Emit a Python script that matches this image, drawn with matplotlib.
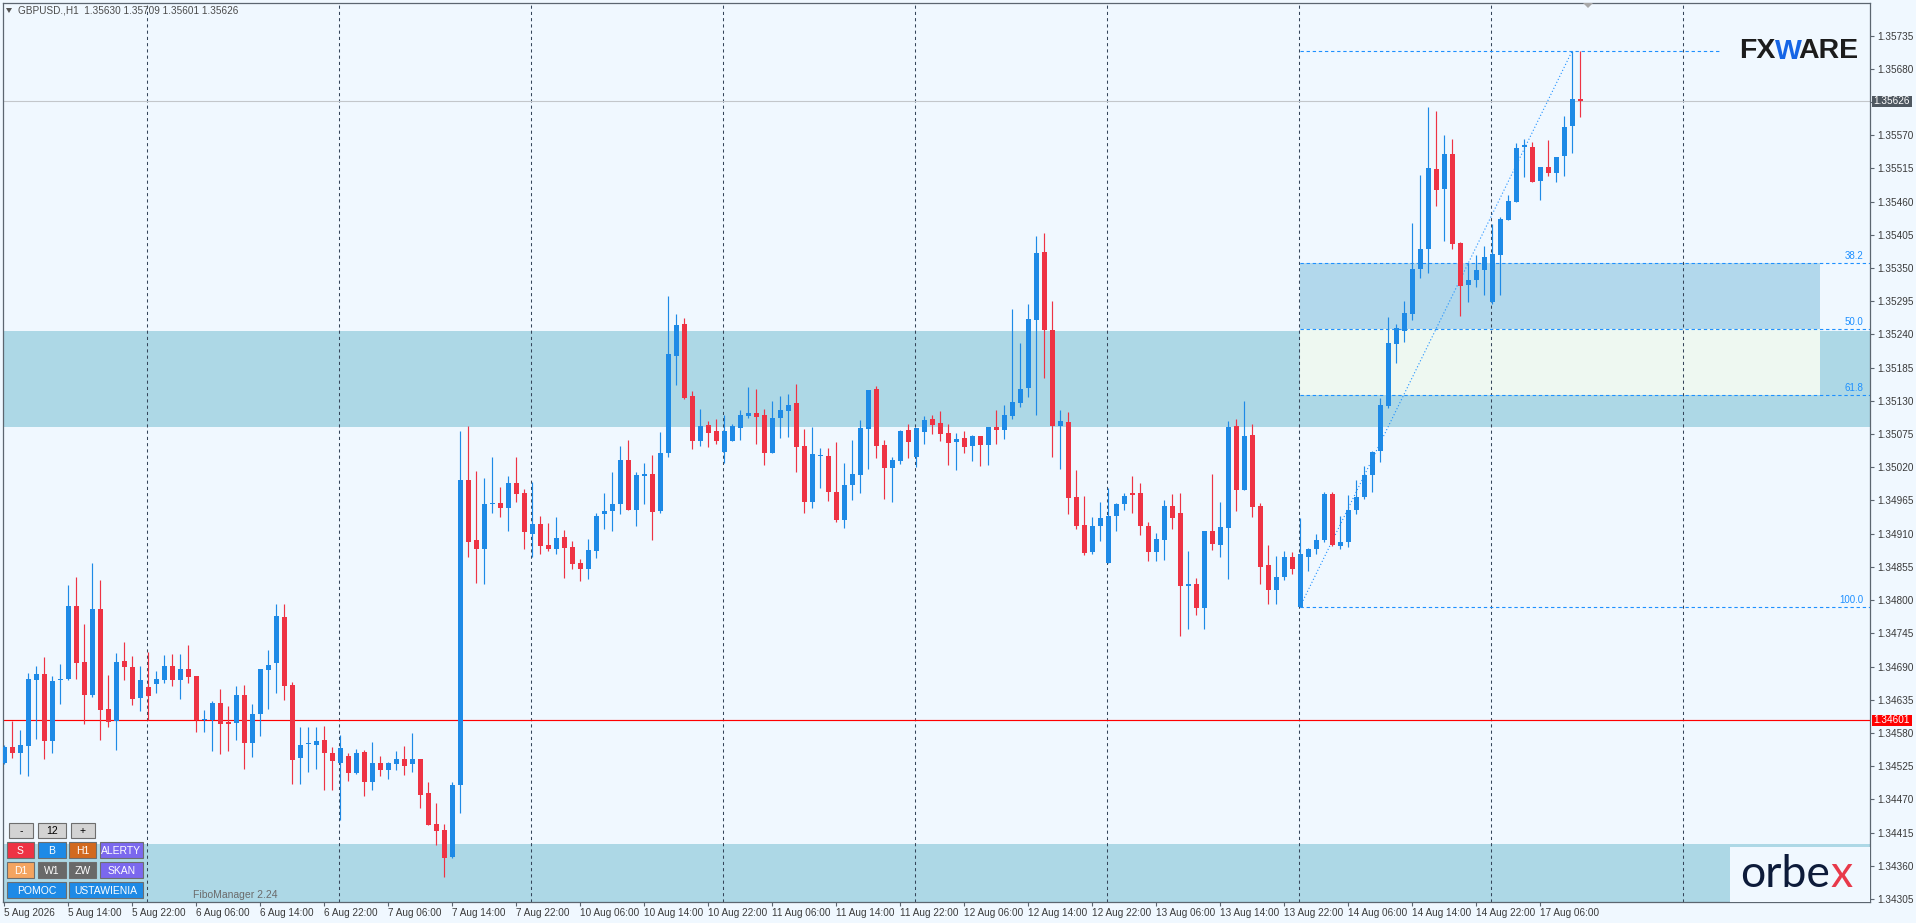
import matplotlib
matplotlib.use("Agg")
import matplotlib.pyplot as plt
from matplotlib.patches import Rectangle, Polygon

FIG_W, FIG_H = 1916, 923
DPI = 100

BG = "#f0f8ff"
BULL = "#1e8ae6"
BEAR = "#ee3344"
ZONE = "#add8e6"
FIB_BLUE = "#1e90ff"
AXIS_GRAY = "#5c6670"
TEXT_GRAY = "#3a3a3a"

# ---- GBPUSD H1 candles (5 Aug 06:00 .. 17 Aug 11:00) ----
opens = [
    1.34530, 1.34557, 1.34547, 1.34559, 1.34668, 1.34678, 1.34566, 1.34667, 1.34669, 1.34790,
    1.34698, 1.34643, 1.34785, 1.34620, 1.34599, 1.34699, 1.34689, 1.34638, 1.34656, 1.34661,
    1.34668, 1.34691, 1.34667, 1.34686, 1.34674, 1.34601, 1.34601, 1.34630, 1.34598, 1.34597,
    1.34643, 1.34563, 1.34611, 1.34684, 1.34696, 1.34772, 1.34659, 1.34539, 1.34561, 1.34560,
    1.34568, 1.34547, 1.34531, 1.34542, 1.34513, 1.34548, 1.34498, 1.34530, 1.34518, 1.34529,
    1.34537, 1.34528, 1.34537, 1.34481, 1.34429, 1.34419, 1.34375, 1.34494, 1.34999, 1.34900,
    1.34885, 1.34959, 1.34961, 1.34953, 1.34994, 1.34978, 1.34910, 1.34926, 1.34891, 1.34884,
    1.34905, 1.34888, 1.34861, 1.34851, 1.34882, 1.34942, 1.34948, 1.34960, 1.35032, 1.34950,
    1.35006, 1.35009, 1.34948, 1.35044, 1.35204, 1.35257, 1.35138, 1.35064, 1.35090, 1.35080,
    1.35045, 1.35064, 1.35085, 1.35105, 1.35110, 1.35107, 1.35044, 1.35102, 1.35113, 1.35127,
    1.35055, 1.34963, 1.35039, 1.35039, 1.34979, 1.34933, 1.34991, 1.35007, 1.35083, 1.35150,
    1.35057, 1.35019, 1.35031, 1.35082, 1.35037, 1.35079, 1.35100, 1.35093, 1.35077, 1.35062,
    1.35069, 1.35055, 1.35072, 1.35057, 1.35087, 1.35082, 1.35105, 1.35127, 1.35151, 1.35264,
    1.35377, 1.35247, 1.35088, 1.35095, 1.34971, 1.34925, 1.34880, 1.34923, 1.34862, 1.34939,
    1.34959, 1.34978, 1.34978, 1.34923, 1.34880, 1.34900, 1.34956, 1.34944, 1.34823, 1.34827,
    1.34787, 1.34915, 1.34891, 1.34920, 1.35088, 1.34982, 1.35074, 1.34956, 1.34858, 1.34817,
    1.34838, 1.34871, 1.34789, 1.34871, 1.34885, 1.34900, 1.34976, 1.34890, 1.34896, 1.34949,
    1.34971, 1.35007, 1.35047, 1.35122, 1.35224, 1.35246, 1.35274, 1.35349, 1.35381, 1.35514,
    1.35481, 1.35539, 1.35392, 1.35322, 1.35330, 1.35346, 1.35294, 1.35372, 1.35429, 1.35460,
    1.35551, 1.35550, 1.35495, 1.35517, 1.35508, 1.35536, 1.35586, 1.35630,
]
highs = [
    1.34560, 1.34599, 1.34585, 1.34679, 1.34691, 1.34705, 1.34674, 1.34695, 1.34825, 1.34838,
    1.34761, 1.34862, 1.34833, 1.34676, 1.34712, 1.34731, 1.34708, 1.34691, 1.34714, 1.34683,
    1.34709, 1.34711, 1.34711, 1.34726, 1.34674, 1.34618, 1.34633, 1.34653, 1.34625, 1.34658,
    1.34659, 1.34628, 1.34686, 1.34717, 1.34794, 1.34794, 1.34664, 1.34590, 1.34590, 1.34590,
    1.34592, 1.34557, 1.34577, 1.34547, 1.34553, 1.34552, 1.34565, 1.34542, 1.34532, 1.34550,
    1.34558, 1.34580, 1.34537, 1.34499, 1.34464, 1.34430, 1.34498, 1.35080, 1.35088, 1.35014,
    1.35002, 1.35037, 1.34987, 1.35006, 1.35037, 1.34984, 1.34996, 1.34939, 1.34928, 1.34938,
    1.34916, 1.34898, 1.34868, 1.34901, 1.34944, 1.34978, 1.35012, 1.35055, 1.35065, 1.35012,
    1.35027, 1.35040, 1.35079, 1.35304, 1.35274, 1.35267, 1.35147, 1.35117, 1.35097, 1.35100,
    1.35107, 1.35092, 1.35115, 1.35153, 1.35150, 1.35117, 1.35130, 1.35138, 1.35141, 1.35158,
    1.35083, 1.35087, 1.35052, 1.35052, 1.35062, 1.35027, 1.35065, 1.35098, 1.35148, 1.35155,
    1.35065, 1.35037, 1.35082, 1.35092, 1.35085, 1.35105, 1.35107, 1.35113, 1.35092, 1.35077,
    1.35080, 1.35074, 1.35072, 1.35087, 1.35115, 1.35123, 1.35282, 1.35226, 1.35291, 1.35403,
    1.35408, 1.35296, 1.35115, 1.35112, 1.35016, 1.34973, 1.34938, 1.34963, 1.34986, 1.34961,
    1.34978, 1.35006, 1.34994, 1.34929, 1.34911, 1.34966, 1.34976, 1.34978, 1.34881, 1.34837,
    1.34915, 1.35009, 1.34963, 1.35097, 1.35100, 1.35130, 1.35092, 1.34961, 1.34891, 1.34873,
    1.34881, 1.34880, 1.34936, 1.34886, 1.34910, 1.34979, 1.34979, 1.34939, 1.34974, 1.34999,
    1.35022, 1.35047, 1.35135, 1.35269, 1.35257, 1.35296, 1.35425, 1.35504, 1.35617, 1.35610,
    1.35570, 1.35564, 1.35393, 1.35358, 1.35372, 1.35386, 1.35423, 1.35435, 1.35471, 1.35557,
    1.35564, 1.35559, 1.35517, 1.35562, 1.35534, 1.35602, 1.35709, 1.35709,
]
lows = [
    1.34529, 1.34538, 1.34512, 1.34509, 1.34570, 1.34537, 1.34547, 1.34628, 1.34668, 1.34670,
    1.34595, 1.34639, 1.34568, 1.34590, 1.34551, 1.34667, 1.34627, 1.34616, 1.34601, 1.34646,
    1.34662, 1.34657, 1.34636, 1.34662, 1.34581, 1.34581, 1.34550, 1.34545, 1.34550, 1.34569,
    1.34520, 1.34540, 1.34575, 1.34620, 1.34646, 1.34635, 1.34496, 1.34496, 1.34515, 1.34520,
    1.34486, 1.34485, 1.34435, 1.34501, 1.34512, 1.34475, 1.34485, 1.34508, 1.34503, 1.34519,
    1.34511, 1.34516, 1.34455, 1.34428, 1.34395, 1.34342, 1.34373, 1.34448, 1.34872, 1.34829,
    1.34827, 1.34945, 1.34938, 1.34915, 1.34963, 1.34885, 1.34872, 1.34877, 1.34882, 1.34877,
    1.34837, 1.34852, 1.34832, 1.34835, 1.34870, 1.34918, 1.34915, 1.34943, 1.34950, 1.34923,
    1.34959, 1.34900, 1.34944, 1.35037, 1.35156, 1.35133, 1.35050, 1.35055, 1.35054, 1.35059,
    1.35027, 1.35064, 1.35065, 1.35102, 1.35059, 1.35024, 1.35044, 1.35069, 1.35070, 1.35012,
    1.34944, 1.34953, 1.34986, 1.34964, 1.34929, 1.34920, 1.34966, 1.34978, 1.35017, 1.35035,
    1.34968, 1.34963, 1.35026, 1.35035, 1.35021, 1.35059, 1.35075, 1.35064, 1.35024, 1.35016,
    1.35044, 1.35031, 1.35022, 1.35024, 1.35059, 1.35067, 1.35100, 1.35120, 1.35137, 1.35107,
    1.35168, 1.35037, 1.35017, 1.34943, 1.34918, 1.34875, 1.34876, 1.34898, 1.34862, 1.34915,
    1.34949, 1.34944, 1.34908, 1.34865, 1.34865, 1.34867, 1.34918, 1.34741, 1.34752, 1.34775,
    1.34752, 1.34883, 1.34871, 1.34835, 1.34948, 1.34982, 1.34938, 1.34827, 1.34794, 1.34794,
    1.34833, 1.34843, 1.34789, 1.34848, 1.34876, 1.34896, 1.34890, 1.34885, 1.34888, 1.34943,
    1.34968, 1.34979, 1.35029, 1.35118, 1.35193, 1.35228, 1.35264, 1.35334, 1.35341, 1.35453,
    1.35395, 1.35382, 1.35270, 1.35294, 1.35319, 1.35305, 1.35290, 1.35306, 1.35429, 1.35460,
    1.35500, 1.35493, 1.35463, 1.35503, 1.35493, 1.35503, 1.35541, 1.35601,
]
closes = [
    1.34557, 1.34547, 1.34560, 1.34669, 1.34678, 1.34566, 1.34666, 1.34669, 1.34790, 1.34696,
    1.34643, 1.34785, 1.34618, 1.34598, 1.34698, 1.34690, 1.34636, 1.34668, 1.34641, 1.34669,
    1.34691, 1.34667, 1.34686, 1.34672, 1.34601, 1.34603, 1.34630, 1.34595, 1.34595, 1.34643,
    1.34563, 1.34611, 1.34686, 1.34693, 1.34774, 1.34658, 1.34535, 1.34560, 1.34562, 1.34567,
    1.34547, 1.34534, 1.34555, 1.34514, 1.34547, 1.34498, 1.34530, 1.34518, 1.34530, 1.34537,
    1.34526, 1.34537, 1.34478, 1.34428, 1.34418, 1.34373, 1.34494, 1.34999, 1.34897, 1.34885,
    1.34959, 1.34961, 1.34952, 1.34994, 1.34975, 1.34913, 1.34926, 1.34889, 1.34884, 1.34903,
    1.34887, 1.34860, 1.34851, 1.34883, 1.34939, 1.34948, 1.34959, 1.35032, 1.34950, 1.35007,
    1.35009, 1.34946, 1.35044, 1.35208, 1.35256, 1.35135, 1.35064, 1.35088, 1.35077, 1.35064,
    1.35080, 1.35088, 1.35107, 1.35110, 1.35103, 1.35044, 1.35102, 1.35115, 1.35123, 1.35054,
    1.34963, 1.35042, 1.35040, 1.34979, 1.34933, 1.34991, 1.35009, 1.35085, 1.35148, 1.35055,
    1.35019, 1.35032, 1.35080, 1.35062, 1.35085, 1.35098, 1.35090, 1.35075, 1.35060, 1.35067,
    1.35054, 1.35072, 1.35057, 1.35087, 1.35082, 1.35107, 1.35128, 1.35150, 1.35266, 1.35375,
    1.35247, 1.35088, 1.35097, 1.34969, 1.34923, 1.34878, 1.34923, 1.34936, 1.34939, 1.34959,
    1.34973, 1.34974, 1.34923, 1.34880, 1.34901, 1.34956, 1.34936, 1.34823, 1.34827, 1.34787,
    1.34915, 1.34893, 1.34921, 1.35087, 1.34982, 1.35072, 1.34954, 1.34855, 1.34817, 1.34838,
    1.34871, 1.34852, 1.34876, 1.34885, 1.34900, 1.34976, 1.34891, 1.34896, 1.34949, 1.34971,
    1.35007, 1.35045, 1.35123, 1.35226, 1.35251, 1.35276, 1.35349, 1.35382, 1.35515, 1.35479,
    1.35539, 1.35390, 1.35321, 1.35330, 1.35347, 1.35369, 1.35374, 1.35431, 1.35461, 1.35549,
    1.35553, 1.35493, 1.35517, 1.35508, 1.35534, 1.35584, 1.35630, 1.35626,
]

# one label every 8 bars, starting at bar 0
time_labels = [
    "5 Aug 2026", "5 Aug 14:00", "5 Aug 22:00", "6 Aug 06:00", "6 Aug 14:00",
    "6 Aug 22:00", "7 Aug 06:00", "7 Aug 14:00", "7 Aug 22:00", "10 Aug 06:00",
    "10 Aug 14:00", "10 Aug 22:00", "11 Aug 06:00", "11 Aug 14:00", "11 Aug 22:00",
    "12 Aug 06:00", "12 Aug 14:00", "12 Aug 22:00", "13 Aug 06:00", "13 Aug 14:00",
    "13 Aug 22:00", "14 Aug 06:00", "14 Aug 14:00", "14 Aug 22:00", "17 Aug 06:00",
]
day_start_bars = [18, 42, 66, 90, 114, 138, 162, 186, 210]

price_ticks = [
    1.35735, 1.35680, 1.35625, 1.35570, 1.35515, 1.35460, 1.35405, 1.35350, 1.35295,
    1.35240, 1.35185, 1.35130, 1.35075, 1.35020, 1.34965, 1.34910, 1.34855, 1.34800,
    1.34745, 1.34690, 1.34635, 1.34580, 1.34525, 1.34470, 1.34415, 1.34360, 1.34305,
]

resistance_zone = (1.35087, 1.35246)
support_zone_top = 1.34396
fib_high, fib_low = 1.35709, 1.34789
fib_start_bar, fib_end_bar = 162, 196
fib_levels = [0.0, 38.2, 50.0, 61.8, 100.0]
alert_price = 1.34601
bid_price = 1.35626
header_text = "GBPUSD.,H1  1.35630 1.35709 1.35601 1.35626"

# ---- layout (pixels) ----
PLOT_L, PLOT_R, PLOT_T, PLOT_B = 3, 1870, 3, 902
BAR_PX, BAR0_PX = 8, 4
Y_TOP, Y_BOTTOM = 1.35789, 1.34300
X_MIN = (PLOT_L - BAR0_PX) / BAR_PX
X_MAX = (PLOT_R - BAR0_PX) / BAR_PX
FIB_BOX_END = 227
FIB_ZERO_END = 214.5

plt.rcParams["font.family"] = ["Liberation Sans", "DejaVu Sans"]


def price_px(p):
    return PLOT_T + (Y_TOP - p) / (Y_TOP - Y_BOTTOM) * (PLOT_B - PLOT_T)


fig = plt.figure(figsize=(FIG_W / DPI, FIG_H / DPI), dpi=DPI, facecolor=BG)
ax = fig.add_axes([PLOT_L / FIG_W, (FIG_H - PLOT_B) / FIG_H,
                   (PLOT_R - PLOT_L) / FIG_W, (PLOT_B - PLOT_T) / FIG_H])
ax.set_facecolor(BG)
ax.set_xlim(X_MIN, X_MAX)
ax.set_ylim(Y_BOTTOM, Y_TOP)

# zones
ax.add_patch(Rectangle((X_MIN, resistance_zone[0]), X_MAX - X_MIN,
                       resistance_zone[1] - resistance_zone[0],
                       facecolor=ZONE, edgecolor="none", zorder=0.5))
ax.add_patch(Rectangle((X_MIN, Y_BOTTOM - 0.001), X_MAX - X_MIN,
                       support_zone_top - Y_BOTTOM + 0.001,
                       facecolor=ZONE, edgecolor="none", zorder=0.5))

# fibonacci
fib_range = fib_high - fib_low
fib_prices = {lvl: fib_high - fib_range * lvl / 100 for lvl in fib_levels}
ax.add_patch(Rectangle((fib_start_bar, fib_prices[50.0]), FIB_BOX_END - fib_start_bar,
                       fib_prices[38.2] - fib_prices[50.0],
                       facecolor="#b2d8ec", edgecolor="none", zorder=0.6))
ax.add_patch(Rectangle((fib_start_bar, fib_prices[61.8]), FIB_BOX_END - fib_start_bar,
                       fib_prices[50.0] - fib_prices[61.8],
                       facecolor="#eef8f1", edgecolor="none", zorder=0.6))
for lvl, p in fib_prices.items():
    x_end = FIB_ZERO_END if lvl == 0.0 else X_MAX
    ax.plot([fib_start_bar, x_end], [p, p], color=FIB_BLUE, lw=0.8,
            ls=(0, (3, 2.5)), zorder=1.5)
    if lvl > 0:
        ax.annotate(f"{lvl:.1f}", xy=(1, p), xycoords=("axes fraction", "data"),
                    xytext=(-7, 2), textcoords="offset pixels", ha="right", va="bottom",
                    fontsize=7, color=FIB_BLUE, annotation_clip=False)
ax.plot([fib_start_bar, fib_end_bar], [fib_low, fib_high], color=FIB_BLUE, lw=0.8,
        ls=(0, (1, 2)), zorder=1.6)

# day separators
for d in day_start_bars:
    ax.axvline(d - 0.1, color="#35455a", lw=0.75, ls=(0, (3, 3)), zorder=1.2)

# horizontal lines
ax.axhline(bid_price, color="#c3c7cb", lw=0.8, zorder=1.3)
ax.axhline(alert_price, color="#ff0000", lw=0.85, zorder=1.4)

# candles
xs = list(range(len(opens)))
colors = [BULL if c >= o else BEAR for o, c in zip(opens, closes)]
ax.vlines(xs, lows, highs, colors=colors, lw=0.85, zorder=3)
bottoms = [min(o, c) for o, c in zip(opens, closes)]
heights = [max(abs(c - o), 0.000018) for o, c in zip(opens, closes)]
ax.bar(xs, heights, bottom=bottoms, width=0.625, color=colors, linewidth=0, zorder=3.1)

# axes styling
for side in ["top", "bottom", "left", "right"]:
    ax.spines[side].set_color(AXIS_GRAY)
    ax.spines[side].set_linewidth(0.9)
ax.yaxis.tick_right()
ax.set_yticks(price_ticks)
ax.set_yticklabels(["" if abs(p - 1.35625) < 1e-7 else f"{p:.5f}" for p in price_ticks])
ax.tick_params(axis="y", direction="out", length=3, width=0.8, color=AXIS_GRAY,
               pad=2, labelsize=7.2, labelcolor=TEXT_GRAY)
ax.set_xticks([8 * k for k in range(len(time_labels))])
ax.set_xticklabels(time_labels)
for lbl in ax.get_xticklabels():
    lbl.set_ha("left")
ax.tick_params(axis="x", direction="out", length=3, width=0.8, color=AXIS_GRAY,
               pad=1, labelsize=7.2, labelcolor=TEXT_GRAY)

# ---- pixel-space overlay ----
ov = fig.add_axes([0, 0, 1, 1], zorder=5)
ov.set_xlim(0, FIG_W)
ov.set_ylim(FIG_H, 0)
ov.axis("off")
ov.patch.set_alpha(0)

# price boxes on the scale
for price, face in [(bid_price, "#4f5861"), (alert_price, "#ff0000")]:
    y = price_px(price)
    ov.add_patch(Rectangle((1872, y - 5.5), 40, 11, facecolor=face, edgecolor="none"))
    ov.text(1892, y, f"{price:.5f}", color="white", fontsize=7.2, ha="center", va="center")

# shift marker
ov.add_patch(Polygon([(1583, 3), (1593, 3), (1588, 8)], closed=True,
                     facecolor="#a8a8a8", edgecolor="none"))

# header
ov.add_patch(Polygon([(6, 8), (12, 8), (9, 13)], closed=True,
                     facecolor="#555555", edgecolor="none"))
ov.text(18, 10.5, header_text, fontsize=7.2, color="#4a4a4a", ha="left", va="center")

# FXWARE logo
ov.text(1739, 51, "FX", fontsize=20.5, fontweight="bold", color="#1c1c1c",
        ha="left", va="center")
ov.text(1788, 52, "W", fontsize=20.5, fontweight="bold", color="#1565e6",
        ha="center", va="center")
ov.text(1798, 51, "ARE", fontsize=20.5, fontweight="bold", color="#1c1c1c",
        ha="left", va="center")

# orbex logo
ov.add_patch(Rectangle((1730, 847), PLOT_R - 1730, PLOT_B - 847,
                       facecolor=BG, edgecolor="none"))
t_orbe = ov.text(1740, 887, "orbe", fontsize=32, color="#0d1b3a", ha="left",
                 va="baseline", family=["Lato", "DejaVu Sans"])
fig.canvas.draw()
bb = t_orbe.get_window_extent(renderer=fig.canvas.get_renderer())
ov.text(bb.x1 + 1, 887, "x", fontsize=32, color="#e8394a", ha="left",
        va="baseline", family=["Lato", "DejaVu Sans"])

# indicator panel buttons
buttons = [
    (9, 823, 33, 838, "#d3d3d3", "-", "black"),
    (38, 823, 66, 838, "#d3d3d3", "12", "black"),
    (71, 823, 95, 838, "#d3d3d3", "+", "black"),
    (7, 842, 34, 858, "#ee3344", "S", "white"),
    (38, 842, 66, 858, "#1e8ae6", "B", "white"),
    (69, 842, 96, 858, "#d2691e", "H1", "white"),
    (100, 842, 143, 858, "#7b68ee", "ALERTY", "white"),
    (7, 862, 34, 878, "#f4a460", "D1", "white"),
    (38, 862, 66, 878, "#696969", "W1", "white"),
    (69, 862, 96, 878, "#696969", "ZW", "white"),
    (100, 862, 143, 878, "#7b68ee", "SKAN", "white"),
    (7, 882, 66, 898, "#1e8ae6", "POMOC", "white"),
    (69, 882, 143, 898, "#1e8ae6", "USTAWIENIA", "white"),
]
for x0, y0, x1, y1, face, label, tcol in buttons:
    ov.add_patch(Rectangle((x0, y0), x1 - x0, y1 - y0, facecolor=face,
                           edgecolor="#6e6e6e", lw=0.8))
    ov.text((x0 + x1) / 2, (y0 + y1) / 2 + 0.5, label, color=tcol, fontsize=7.5,
            ha="center", va="center")

ov.text(193, 895, "FiboManager 2.24", fontsize=7.5, color="#6b6b6b",
        ha="left", va="center")

fig.savefig("out.png", dpi=DPI, facecolor=BG)
